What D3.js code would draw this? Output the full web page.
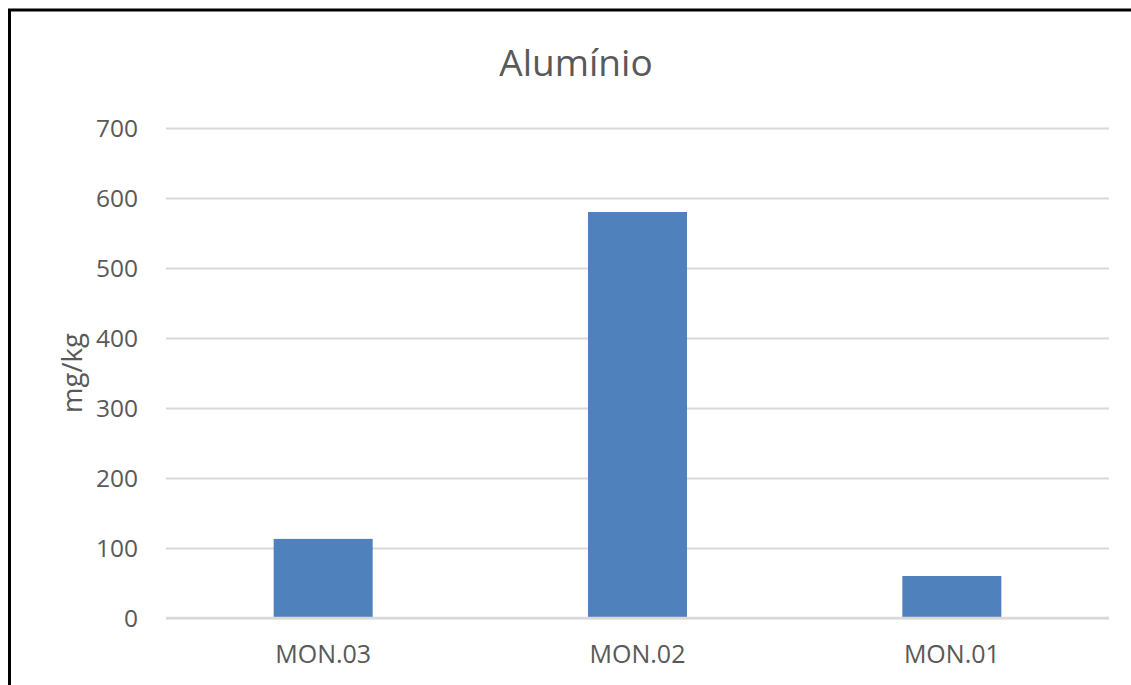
<!DOCTYPE html>
<html>
<head>
<meta charset="utf-8">
<script src="https://cdnjs.cloudflare.com/ajax/libs/d3/7.8.5/d3.min.js"></script>
<style>
  html, body { margin: 0; padding: 0; background: #fff; overflow: hidden; }
  svg { display: block; font-family: "Open Sans", "Liberation Sans", sans-serif; }
</style>
</head>
<body>
<svg id="chart" width="1131" height="685"></svg>
<script>
const title = "Alumínio";
const yLabel = "mg/kg";
const categories = ["MON.03", "MON.02", "MON.01"];
const values = [113, 580, 60];
const yTicks = [0, 100, 200, 300, 400, 500, 600, 700];

const svg = d3.select("#chart");
const W = 1131, H = 685;
const m = { left: 166, right: 22, top: 128, bottom: 67 };

svg.append("rect").attr("x", 0).attr("y", 0).attr("width", W).attr("height", H).attr("fill", "#fff");
// outer border (cropped at right and bottom)
svg.append("rect")
  .attr("x", 9.5).attr("y", 10)
  .attr("width", W + 20).attr("height", H + 20)
  .attr("fill", "none").attr("stroke", "#000").attr("stroke-width", 3);

const x = d3.scaleBand().domain(categories).range([m.left, W - m.right]).paddingInner(0.685).paddingOuter(0.3425);
const y = d3.scaleLinear().domain([0, 700]).range([H - m.bottom, m.top]);

// gridlines
const grid = svg.append("g")
  .attr("transform", `translate(${m.left},0)`)
  .call(d3.axisLeft(y).tickValues(yTicks).tickSize(-(W - m.right - m.left)).tickFormat(""));
grid.select(".domain").remove();
grid.selectAll("line").attr("stroke", "#d9d9d9").attr("stroke-width", 2);

// y tick labels
const yAx = svg.append("g")
  .attr("transform", `translate(${m.left - 28},0)`)
  .call(d3.axisLeft(y).tickValues(yTicks).tickSize(0).tickPadding(0).tickFormat(d3.format("d")));
yAx.select(".domain").remove();
yAx.selectAll("text").attr("fill", "#595959").attr("font-size", 24.5)
  .attr("font-family", "'Open Sans', sans-serif").attr("dy", "0.35em");

// bars
svg.append("g").selectAll("rect").data(values).join("rect")
  .attr("x", (d, i) => x(categories[i]))
  .attr("y", d => y(d))
  .attr("width", x.bandwidth())
  .attr("height", d => y(0) - y(d))
  .attr("fill", "#4f81bd");

// baseline
svg.append("line")
  .attr("x1", m.left).attr("x2", W - m.right)
  .attr("y1", y(0)).attr("y2", y(0))
  .attr("stroke", "#d9d9d9").attr("stroke-width", 2.5);

// x labels
const xAx = svg.append("g")
  .attr("transform", `translate(0,${y(0)})`)
  .call(d3.axisBottom(x).tickSize(0).tickPadding(27));
xAx.select(".domain").remove();
xAx.selectAll("text").attr("fill", "#595959").attr("font-size", 25)
  .attr("font-family", "'Open Sans', sans-serif");

// title
svg.append("text")
  .attr("x", 576).attr("y", 76)
  .attr("text-anchor", "middle")
  .attr("fill", "#595959").attr("font-size", 37)
  .text(title);

// y label
svg.append("text")
  .attr("transform", `translate(82,${(y(0) + y(700)) / 2}) rotate(-90)`)
  .attr("text-anchor", "middle")
  .attr("fill", "#595959").attr("font-size", 27.5)
  .text(yLabel);
</script>
</body>
</html>
